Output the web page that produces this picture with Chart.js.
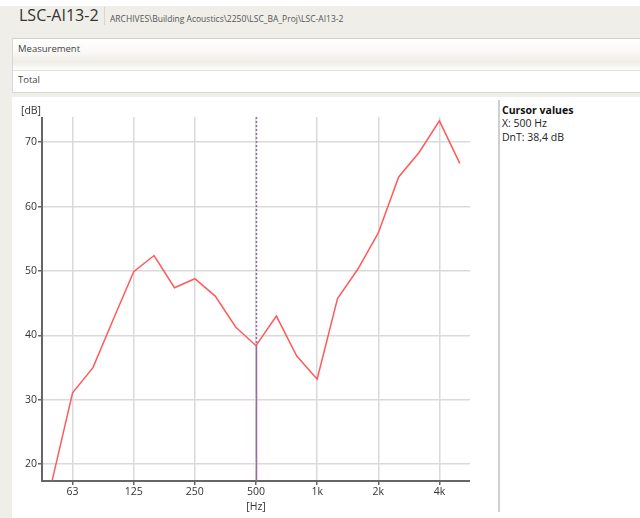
<!DOCTYPE html>
<html>
<head>
<meta charset="utf-8">
<script src="https://cdn.jsdelivr.net/npm/chart.js@4"></script>
<style>
  html, body { margin: 0; padding: 0; }
  body { width: 640px; height: 518px; position: relative; overflow: hidden; background: #efeee8; font-family: "Open Sans", sans-serif; }
  .topstrip { position: absolute; left: 0; top: 0; width: 640px; height: 6px; background: #fff; }
  .title { position: absolute; left: 19px; top: 4px; font-size: 16px; color: #333; }
  .sep { position: absolute; left: 104px; top: 7px; width: 1px; height: 18px; background: #d6d6d0; }
  .path { position: absolute; left: 110px; top: 13px; font-size: 8.5px; color: #555; }
  .box1 { position: absolute; left: 12px; top: 38px; width: 628px; height: 32px; border-top: 1px solid #d2d2ce; border-left: 1px solid #d8d8d4;
          background: linear-gradient(#ffffff 0%, #faf9f6 40%, #efede6 75%, #ffffff 100%); box-sizing: border-box; }
  .box2 { position: absolute; left: 12px; top: 70px; width: 628px; height: 23px; border-top: 1px solid #e0e0dc; border-left: 1px solid #d8d8d4;
          border-bottom: 1px solid #d6d6d2; background: #fff; box-sizing: border-box; }
  .lbl { position: absolute; left: 5px; font-size: 9.5px; color: #444; }
  .panel { position: absolute; left: 12px; top: 97px; width: 628px; height: 421px; background: #fff; }
  .vsep { position: absolute; left: 498px; top: 100px; width: 2px; height: 412px; background: #cfcfcf; }
  .cursor { position: absolute; left: 502px; top: 104px; font-size: 10.5px; color: #222; line-height: 13.3px; }
  .cursor b { font-weight: bold; color: #111; }
  #wrap { position: absolute; left: 0; top: 97px; width: 499px; height: 421px; }
</style>
</head>
<body>
<div class="topstrip"></div>
<div class="title">LSC-AI13-2</div>
<div class="sep"></div>
<div class="path">ARCHIVES\Building Acoustics\2250\LSC_BA_Proj\LSC-AI13-2</div>
<div class="box1"><div class="lbl" style="top:3px">Measurement</div></div>
<div class="box2"><div class="lbl" style="top:2px">Total</div></div>
<div class="panel"></div>
<div class="vsep"></div>
<div class="cursor"><b>Cursor values</b><br>X: 500 Hz<br>DnT: 38,4 dB</div>
<div id="wrap"><canvas id="c"></canvas></div>
<script>
// third-octave bands, 50 Hz .. 5 kHz
const bands = ["50", "63", "80", "100", "125", "160", "200", "250", "315", "400", "500",
  "630", "800", "1k", "1.25k", "1.6k", "2k", "2.5k", "3.15k", "4k", "5k"];
const dnt = [17.5, 31.1, 35.0, 42.5, 49.9, 52.4, 47.4, 48.8, 46.1, 41.3, 38.4,
  43.0, 36.8, 33.2, 45.7, 50.3, 55.9, 64.6, 68.4, 73.3, 66.7];
const octaveLabels = ["63", "125", "250", "500", "1k", "2k", "4k"];
const yTicks = [20, 30, 40, 50, 60, 70];
const cursorBand = "500";

const isOctave = (i) => octaveLabels.includes(bands[i]);

const cursorPlugin = {
  id: "cursor",
  beforeDatasetsDraw(chart) {
    // axis lines, kept to the plot area
    const ctx = chart.ctx;
    const a = chart.chartArea;
    ctx.save();
    ctx.strokeStyle = "#666";
    ctx.lineWidth = 2;
    ctx.beginPath();
    ctx.moveTo(a.left, a.top);
    ctx.lineTo(a.left, a.bottom);
    ctx.lineTo(a.right, a.bottom);
    ctx.stroke();
    ctx.restore();
  },
  afterDatasetsDraw(chart) {
    const ctx = chart.ctx;
    const area = chart.chartArea;
    const i = bands.indexOf(cursorBand);
    const x = Math.round(chart.scales.x.getPixelForValue(i)) + 0.5;
    const y = chart.scales.y.getPixelForValue(dnt[i]);
    ctx.save();
    ctx.strokeStyle = "#9a6aa6";
    ctx.lineWidth = 1.5;
    ctx.setLineDash([2, 2]);
    ctx.beginPath();
    ctx.moveTo(x, area.top);
    ctx.lineTo(x, y);
    ctx.stroke();
    ctx.setLineDash([]);
    ctx.beginPath();
    ctx.moveTo(x, y);
    ctx.lineTo(x, area.bottom);
    ctx.stroke();
    ctx.restore();
  },
  afterDraw(chart) {
    const ctx = chart.ctx;
    ctx.save();
    ctx.fillStyle = "#333";
    ctx.font = "10.5px 'Open Sans'";
    ctx.textAlign = "center";
    ctx.textBaseline = "middle";
    ctx.fillText("[dB]", 31, 14);
    ctx.fillText("[Hz]", chart.scales.x.getPixelForValue(bands.indexOf("500")), 410);
    ctx.restore();
  }
};

new Chart(document.getElementById("c"), {
  type: "line",
  data: {
    labels: bands,
    datasets: [{
      label: "DnT",
      data: dnt,
      borderColor: "#ff5a5a",
      borderWidth: 1.5,
      pointRadius: 0,
      tension: 0
    }]
  },
  options: {
    responsive: true,
    maintainAspectRatio: false,
    animation: false,
    layout: { padding: { left: 0, top: 20, right: 29, bottom: 0 } },
    plugins: { legend: { display: false }, tooltip: { enabled: false } },
    scales: {
      x: {
        offset: true,
        afterFit: (s) => { s.height = 37; },
        border: { display: false },
        grid: {
          color: (c) => isOctave(c.index) ? "#dadada" : "rgba(0,0,0,0)",
          tickColor: (c) => isOctave(c.index) ? "#666" : "rgba(0,0,0,0)",
          lineWidth: 1.5,
          tickLength: 4
        },
        ticks: {
          autoSkip: false,
          maxRotation: 0,
          padding: 1,
          color: "#333",
          font: { family: "'Open Sans'", size: 10.5 },
          callback: function (v, i) { return isOctave(i) ? bands[i] : ""; }
        }
      },
      y: {
        min: 17.4,
        max: 73.9,
        afterFit: (s) => { s.width = 42; },
        afterBuildTicks: (s) => { s.ticks = yTicks.map((v) => ({ value: v })); },
        border: { display: false },
        grid: { color: "#dadada", tickColor: "#666", lineWidth: 1.5, tickLength: 4 },
        ticks: {
          padding: 1,
          color: "#333",
          font: { family: "'Open Sans'", size: 10.5 }
        }
      }
    }
  },
  plugins: [cursorPlugin]
});
</script>
</body>
</html>
